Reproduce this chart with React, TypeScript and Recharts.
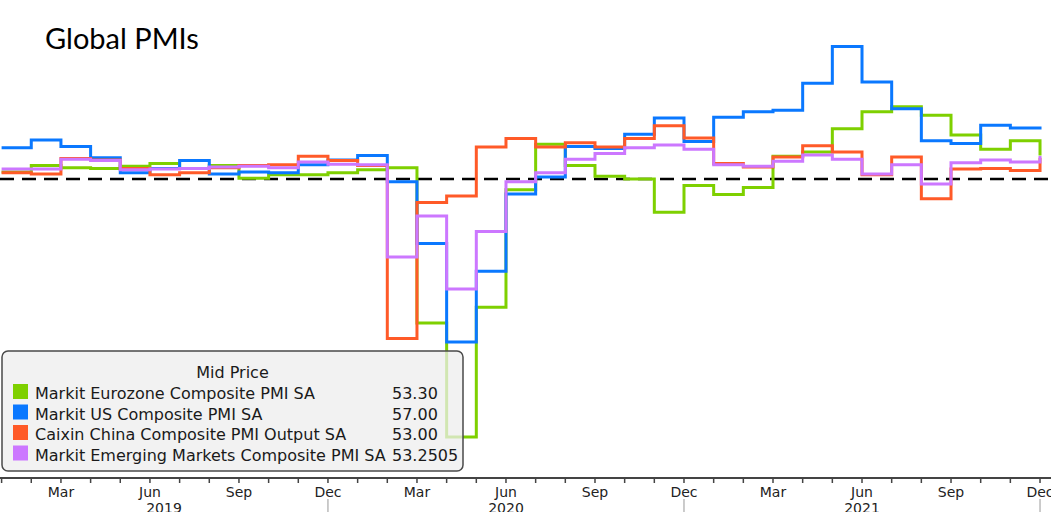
import React from 'react';
import { LineChart, Line, XAxis, YAxis, ReferenceLine } from 'recharts';

// ---- data (monthly, Jan 2019 .. Dec 2021) ----
const monthNames = ['Jan', 'Feb', 'Mar', 'Apr', 'May', 'Jun', 'Jul', 'Aug', 'Sep', 'Oct', 'Nov', 'Dec'];
const yearLabels = ['2019', '2020', '2021'];

const eurozone = [
  51.0, 51.9, 51.6, 51.5, 51.8, 52.2, 51.5, 51.9, 50.1, 50.6, 50.6, 50.9,
  51.3, 51.6, 29.7, 13.6, 31.9, 48.5, 54.9, 51.9, 50.4, 50.0, 45.3, 49.1,
  47.8, 48.8, 53.2, 53.8, 57.1, 59.5, 60.2, 59.0, 56.2, 54.2, 55.4, 53.3,
];
const us = [
  54.4, 55.5, 54.6, 53.0, 50.9, 51.5, 52.6, 50.7, 51.0, 50.9, 52.0, 52.7,
  53.3, 49.6, 40.9, 27.0, 37.0, 47.9, 50.3, 54.6, 54.3, 56.3, 58.6, 55.3,
  58.7, 59.5, 59.7, 63.5, 68.7, 63.7, 59.9, 55.4, 55.0, 57.6, 57.2, 57.0,
];
const china = [
  50.9, 50.7, 52.9, 52.7, 51.5, 50.6, 50.9, 51.6, 51.9, 52.0, 53.2, 52.6,
  51.9, 27.5, 46.7, 47.6, 54.5, 55.7, 54.5, 55.1, 54.5, 55.7, 57.5, 55.8,
  52.2, 51.7, 53.1, 54.7, 53.8, 50.6, 53.1, 47.2, 51.4, 51.5, 51.2, 53.0,
];
const emerging = [
  51.4, 51.4, 52.8, 52.6, 51.3, 51.4, 51.5, 51.7, 51.8, 51.6, 52.4, 52.1,
  52.0, 39.0, 44.8, 34.5, 42.6, 49.6, 50.9, 52.8, 53.6, 54.4, 54.8, 54.2,
  52.0, 51.8, 52.5, 53.4, 52.8, 50.7, 52.0, 49.3, 52.3, 52.7, 52.4, 53.25,
];

const seriesKeys = ['eurozone', 'us', 'china', 'emerging'];
const seriesNames = [
  'Markit Eurozone Composite PMI SA',
  'Markit US Composite PMI SA',
  'Caixin China Composite PMI Output SA',
  'Markit Emerging Markets Composite PMI SA',
];
const lastValues = ['53.30', '57.00', '53.00', '53.2505'];
const colors = ['#7ed000', '#0a78ff', '#ff5a28', '#cc77ff'];

const X_MIN = -0.054;
const X_MAX = 35.37;
const Y_MIN = 7.83;
const Y_MAX = 75.25;

const monthTicks = eurozone.map((_, i) => i);
const yearTicks = [(X_MIN + 11) / 2, 17, 29];

const data = eurozone.map((v, i) => ({
  idx: i,
  eurozone: v,
  us: us[i],
  china: china[i],
  emerging: emerging[i],
}));

const AXIS_FONT = 'DejaVu Sans, Verdana, sans-serif';

const MonthTick = (props: any) => {
  const { x, y, payload } = props;
  const i = payload.value as number;
  const m = ((i % 12) + 12) % 12;
  const labeled = m % 3 === 2;
  return (
    <g>
      {labeled && (
        <text x={x} y={y + 14} textAnchor="middle" fontFamily={AXIS_FONT} fontSize={14} fill="#222">
          {monthNames[m]}
        </text>
      )}
      {m === 11 && <line x1={x} x2={x} y1={y + 16} y2={y + 40} stroke="#999" strokeWidth={1} />}
    </g>
  );
};

const YearTick = (props: any) => {
  const { x, y, index } = props;
  return (
    <text x={x} y={y + 14} textAnchor="middle" fontFamily={AXIS_FONT} fontSize={14} fill="#222">
      {yearLabels[index]}
    </text>
  );
};

export default function App() {
  return (
    <div style={{ position: 'absolute', left: 0, top: 0, width: 1051, height: 512, background: '#fff', overflow: 'hidden' }}>
      <LineChart width={1051} height={512} data={data} margin={{ top: 0, right: 0, bottom: 0, left: 0 }}>
        <XAxis
          dataKey="idx"
          type="number"
          domain={[X_MIN, X_MAX]}
          ticks={monthTicks}
          interval={0}
          tick={<MonthTick />}
          tickSize={5}
          tickMargin={0}
          height={21}
          axisLine={{ stroke: '#444', strokeWidth: 2 }}
          tickLine={{ stroke: '#444', strokeWidth: 1.5 }}
        />
        <XAxis
          xAxisId="year"
          dataKey="idx"
          type="number"
          domain={[X_MIN, X_MAX]}
          ticks={yearTicks}
          interval={0}
          tick={<YearTick />}
          tickSize={0}
          tickMargin={0}
          height={13}
          axisLine={false}
          tickLine={false}
        />
        <YAxis hide type="number" domain={[Y_MIN, Y_MAX]} />
        <ReferenceLine y={50} stroke="#000" strokeWidth={2.5} strokeDasharray="14 8" />
        {seriesKeys.map((k, i) => (
          <Line
            key={k}
            dataKey={k}
            type="stepAfter"
            stroke={colors[i]}
            strokeWidth={3}
            dot={false}
            activeDot={false}
            isAnimationActive={false}
          />
        ))}
      </LineChart>
      <svg width={1051} height={512} style={{ position: 'absolute', left: 0, top: 0, pointerEvents: 'none' }}>
        <text x={45} y={49} fontFamily="Lato, 'Open Sans', sans-serif" fontSize={29} fill="#000">
          Global PMIs
        </text>
        <rect x={2} y={351} width={461} height={120} rx={6} ry={6} fill="#eeeeee" fillOpacity={0.75} stroke="#4a4a4a" strokeWidth={1.5} />
        <text x={232.5} y={378} textAnchor="middle" fontFamily={AXIS_FONT} fontSize={16} fill="#1a1a1a">
          Mid Price
        </text>
        {seriesNames.map((name, i) => (
          <g key={name}>
            <rect x={13} y={384 + i * 20.5} width={15} height={15} fill={colors[i]} />
            <text x={35} y={399 + i * 20.5} fontFamily={AXIS_FONT} fontSize={16} fill="#1a1a1a">
              {name}
            </text>
            <text x={392} y={399 + i * 20.5} fontFamily={AXIS_FONT} fontSize={16} fill="#1a1a1a">
              {lastValues[i]}
            </text>
          </g>
        ))}
      </svg>
    </div>
  );
}
